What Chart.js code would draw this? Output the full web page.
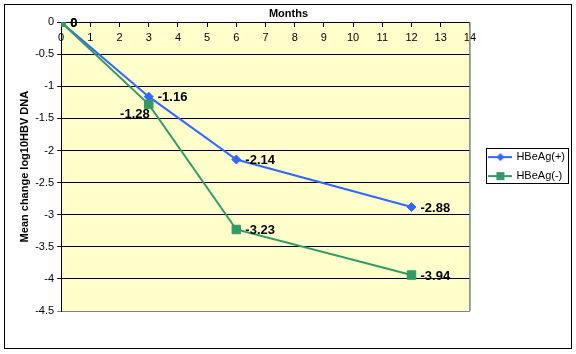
<!DOCTYPE html>
<html>
<head>
<meta charset="utf-8">
<script src="https://cdn.jsdelivr.net/npm/chart.js"></script>
<style>
  html, body { margin: 0; padding: 0; background: #fff; }
</style>
</head>
<body>
<canvas id="hbv" width="576" height="354"></canvas>
<script>
const months = [0, 3, 6, 12];
const hbeagPos = [0, -1.16, -2.14, -2.88];
const hbeagNeg = [0, -1.28, -3.23, -3.94];
const seriesNames = ['HBeAg(+)', 'HBeAg(-)'];

const blue = '#3366ff';
const green = '#339966';
const FONT = '"Liberation Sans", Arial, sans-serif';

Chart.defaults.font.family = FONT;
Chart.defaults.font.size = 11;
Chart.defaults.color = '#000';

// little legend swatch: line with the marker in the middle
function swatch(color, marker) {
  const c = document.createElement('canvas');
  c.width = 24; c.height = 12;
  const g = c.getContext('2d');
  g.strokeStyle = color; g.fillStyle = color; g.lineWidth = 2;
  g.beginPath(); g.moveTo(0, 6); g.lineTo(24, 6); g.stroke();
  g.beginPath();
  if (marker === 'diamond') {
    g.moveTo(12, 2); g.lineTo(16, 6); g.lineTo(12, 10); g.lineTo(8, 6);
  } else {
    g.rect(8, 2, 8, 8);
  }
  g.fill();
  return c;
}

const toPoints = (ys) => months.map((m, i) => ({x: m, y: ys[i]}));

const frame = {
  id: 'frame',
  beforeDraw(chart) {
    const {ctx, chartArea: a, legend} = chart;
    // push the legend a bit away from the plot, like excel does
    const dx = a.right + 12 - legend.left;
    legend.left += dx; legend.right += dx;
    legend.legendHitBoxes.forEach(b => { b.left += dx; });

    ctx.save();
    ctx.fillStyle = '#ffffcc';
    ctx.fillRect(a.left, a.top, a.right - a.left, a.bottom - a.top);
    ctx.restore();
  },
  afterDraw(chart) {
    const {ctx, chartArea: a} = chart;
    ctx.save();
    ctx.strokeStyle = '#808080';
    ctx.lineWidth = 1.5;
    ctx.beginPath();
    ctx.moveTo(a.right, a.top); ctx.lineTo(a.right, a.bottom);
    ctx.stroke();
    ctx.strokeStyle = '#000';
    ctx.lineWidth = 1;
    ctx.strokeRect(4.5, 4.5, 567, 344);
    // legend border
    const boxes = chart.legend.legendHitBoxes;
    if (boxes.length) {
      const first = boxes[0], last = boxes[boxes.length - 1];
      const x0 = first.left - 4;
      const x1 = Math.max(...boxes.map(b => b.left + b.width)) + 3;
      const y0 = first.top + first.height / 2 - 9;
      const y1 = last.top + last.height / 2 + 7;
      ctx.strokeRect(Math.round(x0) + 0.5, Math.round(y0) + 0.5, Math.round(x1 - x0), Math.round(y1 - y0));
    }
    ctx.restore();
  }
};

const valueLabels = {
  id: 'valueLabels',
  afterDatasetsDraw(chart) {
    const ctx = chart.ctx;
    ctx.save();
    ctx.font = 'bold 13px ' + FONT;
    ctx.fillStyle = '#000';
    ctx.textBaseline = 'middle';
    chart.data.datasets.forEach((ds, di) => {
      chart.getDatasetMeta(di).data.forEach((pt, i) => {
        const text = String(ds.data[i].y);
        if (ds.labelBelowLeft && ds.labelBelowLeft.includes(i)) {
          ctx.textAlign = 'right';
          ctx.fillText(text, pt.x + 1, pt.y + 10);
        } else {
          ctx.textAlign = 'left';
          ctx.fillText(text, pt.x + 9, pt.y + 1);
        }
      });
    });
    ctx.restore();
  }
};

new Chart(document.getElementById('hbv'), {
  type: 'line',
  data: {
    datasets: [
      {
        label: seriesNames[0],
        data: toPoints(hbeagPos),
        borderColor: blue,
        backgroundColor: blue,
        borderWidth: 2,
        pointStyle: 'rectRot',
        pointRadius: 4.5,
        pointBorderWidth: 1,
        order: 1,
        legendImg: swatch(blue, 'diamond')
      },
      {
        label: seriesNames[1],
        data: toPoints(hbeagNeg),
        borderColor: green,
        backgroundColor: green,
        borderWidth: 2,
        pointStyle: 'rect',
        pointRadius: 6,
        pointBorderWidth: 1,
        order: 0,
        labelBelowLeft: [1],
        legendImg: swatch(green, 'square')
      }
    ]
  },
  options: {
    responsive: false,
    animation: false,
    layout: { padding: { left: 14, right: 13, top: 0, bottom: 43 } },
    scales: {
      x: {
        type: 'linear',
        position: { y: 0 },
        min: 0,
        max: 14,
        ticks: { stepSize: 1, padding: 5, color: '#000' },
        grid: { drawOnChartArea: false, drawTicks: true, tickLength: 4, color: '#000' },
        border: { color: '#000', width: 1 }
      },
      y: {
        min: -4.5,
        max: 0,
        ticks: {
          stepSize: 0.5,
          padding: 3,
          color: '#000',
          callback: (v) => String(v)
        },
        grid: {
          color: (c) => (c.tick && c.tick.value === -4.5) ? '#808080' : '#000',
          lineWidth: 1,
          tickLength: 4
        },
        border: { color: '#000', width: 1 },
        title: {
          display: true,
          text: 'Mean change log10HBV DNA',
          font: { weight: 'bold', size: 11 },
          color: '#000',
          padding: { top: 4, bottom: 1 }
        }
      }
    },
    plugins: {
      title: {
        display: true,
        text: 'Months',
        font: { weight: 'bold', size: 11 },
        color: '#000',
        padding: { top: 7, bottom: 2 }
      },
      legend: {
        position: 'right',
        fullSize: false,
        labels: {
          usePointStyle: true,
          pointStyleWidth: 21,
          padding: 8,
          color: '#000',
          font: { size: 11 },
          generateLabels: (chart) => chart.data.datasets.map((ds, i) => ({
            text: ds.label,
            pointStyle: ds.legendImg,
            fillStyle: ds.backgroundColor,
            strokeStyle: ds.borderColor,
            lineWidth: 0,
            datasetIndex: i
          }))
        }
      },
      tooltip: { enabled: false }
    }
  },
  plugins: [frame, valueLabels]
});
</script>
</body>
</html>
